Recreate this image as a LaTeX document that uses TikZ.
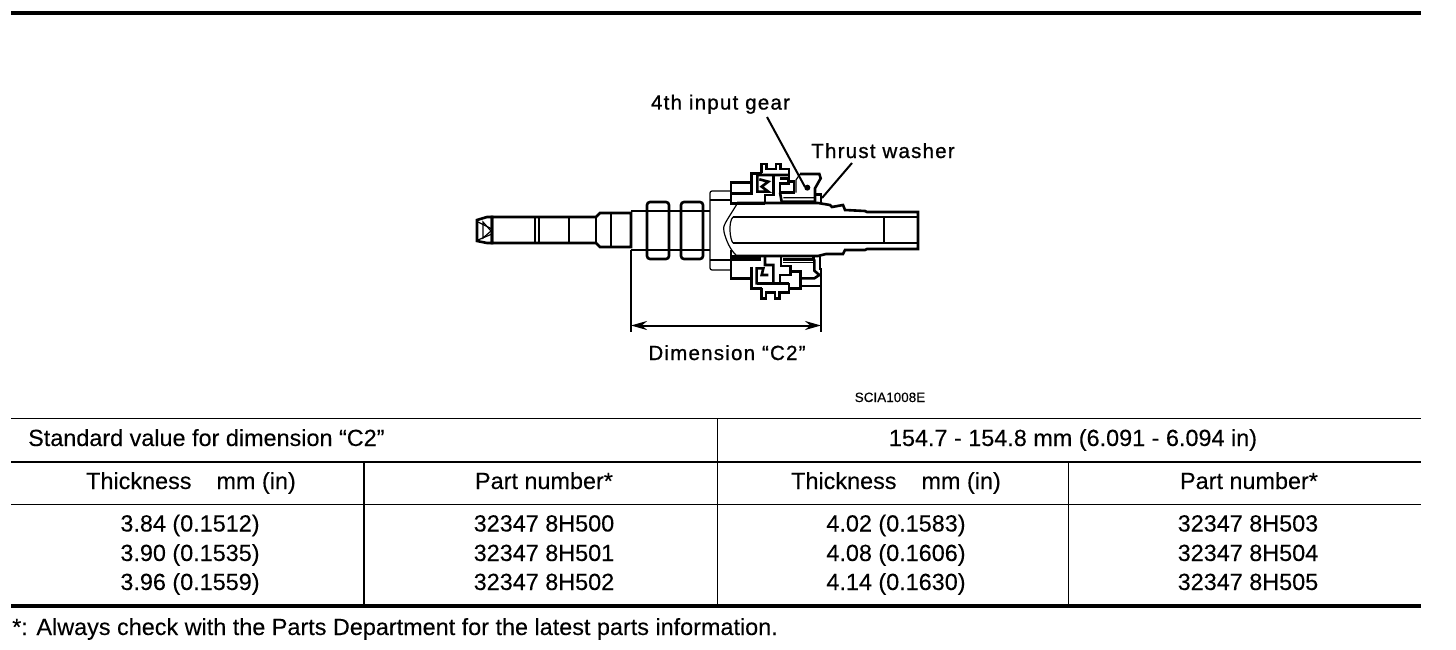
\documentclass[tikz,border=0pt]{standalone}
\usepackage{fontspec}
\setmainfont[FakeBold=0.15]{Liberation Sans}
\newfontfamily\labelfont[LetterSpace=6,FakeBold=0.9]{Liberation Sans}
\usetikzlibrary{arrows.meta}
\begin{document}
\begin{tikzpicture}[x=1pt,y=-1pt,
        cell/.style={inner sep=0pt,anchor=base,font=\fontsize{23.4}{26}\selectfont},
        callout/.style={inner sep=0pt,anchor=base,font=\labelfont\fontsize{20.5}{24}\selectfont},
        heavy/.style={line width=2.6pt},
        fine/.style={line width=1.2pt},
        rule/.style={line width=1pt},
        boldrule/.style={line width=3.6pt},
        midrule/.style={line width=2pt}]
        \useasboundingbox (0,0) rectangle (1456,650);

        % page and table rules
        \draw[boldrule] (11,13) -- (1421,13);
        \draw[rule] (11,418.5) -- (1421,418.5);
        \draw[midrule] (11,462) -- (1421,462);
        \draw[rule] (11,504) -- (1421,504);
        \draw[boldrule] (11,606) -- (1421,606);
        \draw[rule] (717,418.5) -- (717,606);
        \draw[midrule] (364,462) -- (364,606);
        \draw[rule] (1068.5,462) -- (1068.5,606);

        % shaft, left part
        \draw[heavy] (492,217) -- (596,217) -- (600,213) -- (631,213) -- (631,247) -- (600,247) -- (596,243) -- (492,243) -- cycle;
        \draw[heavy] (477,220) -- (487,217) -- (492,217) -- (492,243) -- (487,243) -- (477,241) -- cycle;
        \draw[fine] (483,222) -- (491,231) -- (483,238) -- cycle;
        \draw[fine] (478,222) -- (492,229) (478,240) -- (492,234);
        \draw[fine] (535,217) -- (535,243) (539,217) -- (539,243) (569,217) -- (569,243);
        \draw[heavy] (596,217) -- (596,243);
        \draw[fine] (611,213) -- (611,247);
        \draw[heavy] (631,211) -- (710,211);
        \draw[fine] (631,250) -- (710,250);
        \draw[heavy,rounded corners=3pt] (647,202) rectangle (669,259);
        \draw[heavy,rounded corners=3pt] (681,202) rectangle (703,259);

        % flange
        \draw[fine,rounded corners=2pt] (731,191) -- (710,191) -- (710,270) -- (731,270);
        \draw[heavy] (710,200) -- (731,200) (710,260) -- (731,260);

        % shaft, right part
        \draw[heavy] (733,217) -- (918,217) (733,243) -- (918,243);
        \draw[heavy] (737,203) -- (818,203) -- (830,205) -- (832,207) -- (843,205) -- (845,210) -- (865,211) -- (867,212) -- (918,212) -- (918,249) -- (867,249) -- (865,250) -- (845,250) -- (843,254) -- (826,254) -- (818,256) -- (737,256);
        \draw[fine] (884,217) -- (884,243);
        \draw[fine] (737,204) .. controls (726,222) and (722,226) .. (724,232) .. controls (726,240) and (730,250) .. (737,256);
        \draw[fine] (733,217) .. controls (728,222) and (730,240) .. (733,243);

        % gear pack, upper
        \begin{scope}[shift={(720,150)},x=1pt/3,y=-1pt/3]
        \draw[heavy] (33,165) -- (33,97) -- (95,97) (33,130) -- (95,130) -- (95,70) -- (125,70);
        \draw[heavy] (125,70) -- (125,42) -- (140,42) -- (140,57) -- (168,57) -- (168,42) -- (182,42) -- (182,57) -- (207,57) -- (207,88);
        \draw[heavy] (112,75) -- (205,75) (112,75) -- (112,125) -- (145,125) -- (125,110) -- (145,95) -- (118,88);
        \draw[heavy] (160,75) -- (160,135) -- (135,135) -- (135,160);
        \draw[heavy] (180,85) -- (205,85) -- (205,100) -- (180,100) -- (180,128) -- (222,128) -- (222,95) -- (207,95);
        \draw[heavy] (180,128) -- (185,155) -- (285,155);
        \draw[heavy] (135,160) -- (30,160);
        \draw[heavy] (240,72) -- (298,72) -- (302,85) -- (285,115) -- (285,160);
        \draw[fine] (240,72) -- (228,90) -- (228,128) (190,143) -- (285,143);
        \draw[heavy] (285,133) -- (303,133) -- (303,160);
        \fill (262,113) circle (9);
        \end{scope}

        % gear pack, lower
        \begin{scope}[shift={(720,240)},x=1pt/3,y=-1pt/3]
        \draw[heavy] (33,30) -- (33,115) -- (95,115) (33,50) -- (122,50) (33,58) -- (122,58);
        \draw[heavy] (95,80) -- (95,145) -- (125,145);
        \draw[heavy] (125,145) -- (125,175) -- (138,175) -- (138,158) -- (165,158) -- (165,175) -- (178,175) -- (178,158) -- (207,158) -- (207,128);
        \draw[heavy] (135,48) -- (135,75) -- (160,75) -- (160,130) -- (110,130) -- (110,85) -- (130,85) -- (125,105) -- (145,105);
        \draw[heavy] (112,130) -- (207,130);
        \draw[heavy] (135,48) -- (300,48) (183,48) -- (183,78) -- (212,78) -- (212,105) -- (180,105) -- (180,130);
        \draw[heavy] (190,58) -- (280,58) -- (280,50) (212,95) -- (242,95) -- (242,145) -- (207,145);
        \draw[heavy] (242,115) -- (283,115) -- (298,105) -- (283,92) -- (283,58);
        \draw[heavy] (300,48) -- (300,90);
        \draw[fine] (242,138) -- (300,138) (190,68) -- (280,68);
        \end{scope}

        % dimension
        \coordinate (dimleft) at (631,250);
        \coordinate (dimlefte) at (631,332);
        \coordinate (dimright) at (821,268);
        \coordinate (dimrighte) at (821,332);
        \coordinate (dimarrowl) at (631,325.5);
        \coordinate (dimarrowr) at (821,325.5);
        \draw[heavy] (dimleft) -- (dimlefte);
        \draw[heavy] (dimright) -- (dimrighte);
        \draw[midrule,{Stealth[length=16pt,width=9pt]}-{Stealth[length=16pt,width=9pt]}] (dimarrowl) -- (dimarrowr);

        % callouts
        \node[callout] (gearlabel) at (720.5,109.5) {4th input gear};
        \node[callout] (washerlabel) at (883,158) {Thrust washer};
        \node[callout] (dimlabel) at (727,360) {Dimension “C2”};
        \node[inner sep=0pt,anchor=base,font=\fontsize{13.5}{16}\selectfont] (figcode) at (890,402) {SCIA1008E};
        \coordinate (gearstart) at (767,117);
        \coordinate (gearend) at (805,187);
        \coordinate (washerstart) at (852,163);
        \coordinate (washerend) at (822,198);
        \draw[midrule] (gearstart) -- (gearend);
        \draw[midrule] (washerstart) -- (washerend);

        % table text
        \node[cell,anchor=base west] (stdlabel) at (28,446) {Standard value for dimension “C2”};
        \node[cell] (stdvalue) at (1073,446) {154.7 - 154.8 mm (6.091 - 6.094 in)};

        \node[cell] (thicka) at (191,489) {Thickness\hspace{25pt}mm (in)};
        \node[cell] (parta) at (544,489) {Part number*};
        \node[cell] (thickb) at (896,489) {Thickness\hspace{25pt}mm (in)};
        \node[cell] (partb) at (1249,489) {Part number*};

        \node[cell] (ta) at (190,531.5) {3.84 (0.1512)};
        \node[cell] (tb) at (190,561) {3.90 (0.1535)};
        \node[cell] (tc) at (190,590) {3.96 (0.1559)};
        \node[cell] (pa) at (544,531.5) {32347 8H500};
        \node[cell] (pb) at (544,561) {32347 8H501};
        \node[cell] (pc) at (544,590) {32347 8H502};
        \node[cell] (td) at (896,531.5) {4.02 (0.1583)};
        \node[cell] (te) at (896,561) {4.08 (0.1606)};
        \node[cell] (tf) at (896,590) {4.14 (0.1630)};
        \node[cell] (pd) at (1248,531.5) {32347 8H503};
        \node[cell] (pe) at (1248,561) {32347 8H504};
        \node[cell] (pf) at (1248,590) {32347 8H505};

        \node[cell,anchor=base west] (footnote) at (12,635) {*: Always check with the Parts Department for the latest parts information.};
    \end{tikzpicture}
\end{document}
